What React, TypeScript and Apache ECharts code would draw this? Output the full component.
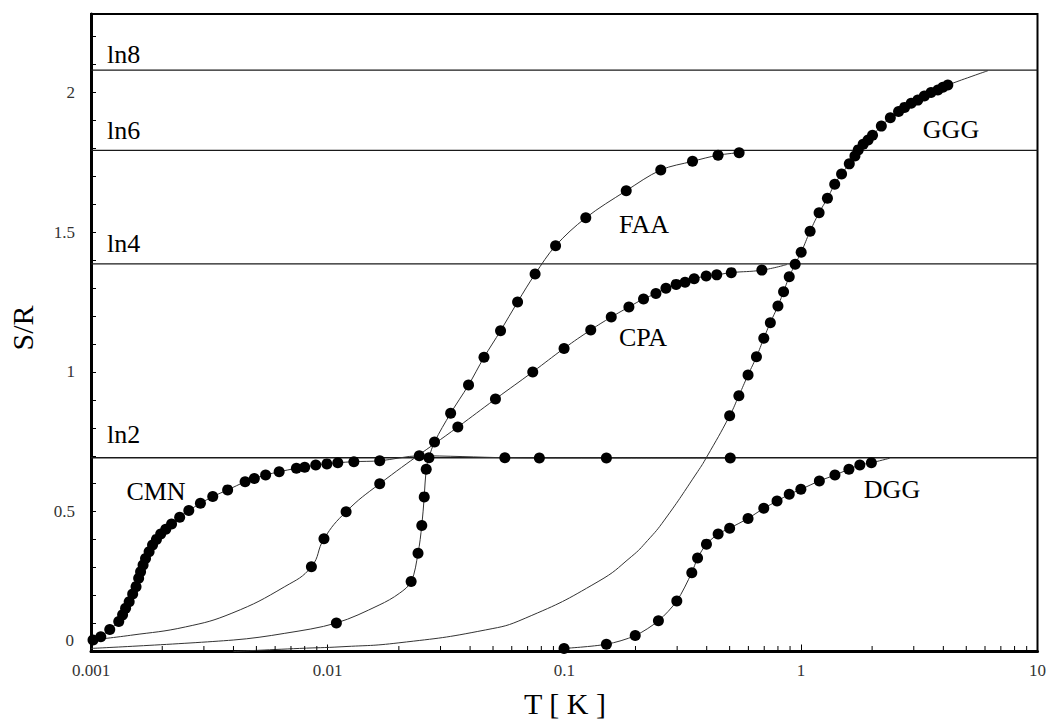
import React, { useEffect, useRef } from "react";
import * as echarts from "echarts";

const xTickLabels = ["0.001", "0.01", "0.1", "1", "10"];
const yTickLabels = ["0", "0.5", "1", "1.5", "2"];
const levelNames = ["ln2", "ln4", "ln6", "ln8"];
const levelValues = [0.693, 1.386, 1.792, 2.079];

const cmnDots: number[][] = [
  [0.00102, 0.041], [0.0011, 0.053], [0.0012, 0.079], [0.00131, 0.107], [0.00136, 0.131],
  [0.0014, 0.155], [0.00145, 0.178], [0.0015, 0.206], [0.00155, 0.232], [0.00159, 0.262],
  [0.00162, 0.285], [0.00166, 0.309], [0.0017, 0.333], [0.00176, 0.357], [0.00182, 0.381],
  [0.00189, 0.401], [0.00197, 0.42], [0.00207, 0.437], [0.00219, 0.456], [0.00237, 0.48],
  [0.00259, 0.504], [0.0029, 0.53], [0.00327, 0.554], [0.00378, 0.578], [0.00448, 0.607],
  [0.0049, 0.619], [0.00547, 0.631], [0.00624, 0.643], [0.00738, 0.655], [0.008, 0.659],
  [0.00891, 0.667], [0.00993, 0.671], [0.01104, 0.675], [0.01291, 0.679], [0.0166, 0.682],
  [0.0244, 0.7], [0.0561, 0.693], [0.0785, 0.692], [0.1507, 0.692], [0.503, 0.692],
];
const cmnCurveExtra: number[][] = [];

const cpaDots: number[][] = [
  [0.00854, 0.303], [0.00965, 0.403], [0.01197, 0.5], [0.0166, 0.6], [0.0355, 0.803],
  [0.0512, 0.903], [0.0736, 1.0], [0.0998, 1.084], [0.1294, 1.15], [0.158, 1.196],
  [0.1876, 1.232], [0.2163, 1.261], [0.244, 1.28], [0.269, 1.299], [0.297, 1.313],
  [0.324, 1.321], [0.354, 1.333], [0.398, 1.343], [0.441, 1.347], [0.508, 1.355], [0.684, 1.364],
];
const cpaCurveExtra: number[][] = [
  [0.001, 0.041], [0.00147, 0.058], [0.00251, 0.088], [0.00394, 0.137], [0.00659, 0.232], [0.873, 1.384],
];

const faaDots: number[][] = [
  [0.01089, 0.102], [0.02254, 0.25], [0.0241, 0.351], [0.025, 0.451], [0.0256, 0.553],
  [0.0261, 0.652], [0.0268, 0.693], [0.0283, 0.749], [0.0331, 0.852], [0.0394, 0.953],
  [0.0458, 1.052], [0.0538, 1.147], [0.0635, 1.25], [0.0753, 1.35], [0.0919, 1.451],
  [0.1233, 1.551], [0.1828, 1.648], [0.2558, 1.722], [0.3484, 1.753], [0.4467, 1.775], [0.5483, 1.784],
];
const faaCurveExtra: number[][] = [
  [0.001, 0.011], [0.00399, 0.041], [0.00659, 0.065], [0.0165, 0.166], [0.0201, 0.208],
];

const gggDots: number[][] = [
  [0.5, 0.843], [0.547, 0.915], [0.598, 0.989], [0.649, 1.054], [0.697, 1.12], [0.743, 1.176],
  [0.8, 1.236], [0.845, 1.287], [0.893, 1.34], [0.946, 1.385], [1.003, 1.428], [1.094, 1.503],
  [1.194, 1.569], [1.295, 1.621], [1.39, 1.671], [1.486, 1.708], [1.602, 1.744], [1.692, 1.772],
  [1.747, 1.794], [1.833, 1.814], [1.923, 1.829], [2.008, 1.846], [2.188, 1.879], [2.388, 1.909],
  [2.588, 1.931], [2.742, 1.946], [2.925, 1.961], [3.12, 1.972], [3.325, 1.987], [3.548, 1.999],
  [3.793, 2.008], [3.981, 2.018], [4.178, 2.026],
];
const gggCurveExtra: number[][] = [
  [0.004, 0.0], [0.0076, 0.011], [0.0115, 0.017], [0.02, 0.031], [0.0464, 0.077], [0.0684, 0.119],
  [0.139, 0.25], [0.192, 0.339], [0.225, 0.397], [0.265, 0.47], [0.366, 0.643], [0.399, 0.694],
  [5.48, 2.062], [6.17, 2.077],
];

const dggDots: number[][] = [
  [0.0998, 0.011], [0.1507, 0.026], [0.1995, 0.057], [0.25, 0.11], [0.299, 0.181],
  [0.346, 0.282], [0.366, 0.334], [0.399, 0.384], [0.447, 0.42], [0.5, 0.441],
  [0.598, 0.476], [0.697, 0.512], [0.793, 0.538], [0.893, 0.562], [1.0, 0.58],
  [1.197, 0.61], [1.393, 0.631], [1.596, 0.652], [1.775, 0.667], [1.986, 0.675],
];
const dggCurveExtra: number[][] = [[2.37, 0.691]];

const FONT = '"Liberation Serif", "Times New Roman", serif';

function curve(dots: number[][], extra: number[][]) {
  return [...dots, ...extra].sort((a, b) => a[0] - b[0]);
}

export default function App() {
  const ref = useRef<HTMLDivElement>(null);
  useEffect(() => {
    document.body.style.margin = "0";
    const chart = echarts.init(ref.current!, null, { renderer: "svg" });

    const minorX: number[][] = [];
    for (let e = -3; e < 1; e++) {
      for (let k = 2; k <= 9; k++) minorX.push([k * Math.pow(10, e), 0]);
    }

    const sets: [number[][], number[][], number][] = [
      [cmnDots, cmnCurveExtra, 0.3],
      [cpaDots, cpaCurveExtra, 0.45],
      [faaDots, faaCurveExtra, 0.35],
      [gggDots, gggCurveExtra, 0.5],
      [dggDots, dggCurveExtra, 0.3],
    ];

    const series: any[] = [];
    levelValues.forEach((v) => {
      series.push({
        type: "line",
        data: [[0.001, v], [10, v]],
        symbol: "none",
        silent: true,
        lineStyle: { color: "#1a1a1a", width: 1.3 },
        z: 1,
      });
    });
    sets.forEach(([dots, extra, sm]) => {
      series.push({
        type: "line",
        data: curve(dots, extra),
        symbol: "none",
        smooth: sm,
        silent: true,
        lineStyle: { color: "#333", width: 1 },
        z: 2,
      });
    });
    sets.forEach(([dots]) => {
      series.push({
        type: "scatter",
        data: dots,
        symbol: "circle",
        symbolSize: 11,
        itemStyle: { color: "#000", opacity: 1 },
        silent: true,
        z: 3,
      });
    });
    series.push({
      type: "scatter",
      data: minorX,
      symbol: "rect",
      symbolSize: [1, 5],
      symbolOffset: [0, -3],
      itemStyle: { color: "#000", opacity: 1 },
      clip: false,
      silent: true,
      z: 4,
    });

    const txt = (text: string, x: number, y: number, size: number, align = "left", rot = 0, fill = "#000") => ({
      type: "text",
      x,
      y,
      rotation: rot,
      silent: true,
      z: 10,
      style: {
        text,
        font: `${size}px ${FONT}`,
        fill,
        textAlign: align,
        textVerticalAlign: "middle",
      },
    });

    const levelY = [434, 243, 130, 54];
    const graphic: any[] = [
      ...levelNames.map((n, i) => txt(n, 107, levelY[i], 26)),
      txt("CMN", 156, 491, 26, "center"),
      txt("FAA", 644, 224, 26, "center"),
      txt("CPA", 643, 337, 26, "center"),
      txt("GGG", 951, 129, 26, "center"),
      txt("DGG", 892, 489, 26, "center"),
      txt("S/R", 22, 328, 30, "center", Math.PI / 2),
      txt("T [ K ]", 565, 703, 30, "center"),
      txt(yTickLabels[0], 74, 640, 17, "right", 0, "#333"),
    ];

    chart.setOption({
      animation: false,
      grid: {
        left: 91,
        right: 6,
        top: 14,
        bottom: 68.5,
        show: true,
        borderColor: "#000",
        borderWidth: 2,
        backgroundColor: "transparent",
      },
      xAxis: {
        type: "log",
        logBase: 10,
        min: 0.001,
        max: 10,
        axisLine: { show: true, lineStyle: { color: "#000", width: 3 } },
        axisTick: { show: true, inside: true, length: 7, lineStyle: { color: "#000", width: 1 } },
        minorTick: { show: false },
        splitLine: { show: false },
        axisLabel: {
          margin: 10,
          fontFamily: FONT,
          fontSize: 17,
          color: "#333",
          formatter: (v: number) => {
            const i = Math.round(Math.log10(v)) + 3;
            return xTickLabels[i] ?? "";
          },
        },
      },
      yAxis: {
        type: "value",
        min: 0,
        max: 2.28,
        interval: 0.1,
        axisLine: { show: true, lineStyle: { color: "#000", width: 3 } },
        axisTick: { show: true, inside: true, length: 5, lineStyle: { color: "#000", width: 1 } },
        splitLine: { show: false },
        axisLabel: {
          margin: 16,
          fontFamily: FONT,
          fontSize: 17,
          color: "#333",
          formatter: (v: number) => {
            const k = Math.round(v * 2);
            if (Math.abs(v * 2 - k) > 1e-6 || k === 0) return "";
            return yTickLabels[k] ?? "";
          },
        },
      },
      series,
      graphic,
    });
    return () => chart.dispose();
  }, []);
  return <div ref={ref} style={{ width: 1049, height: 720 }} />;
}
